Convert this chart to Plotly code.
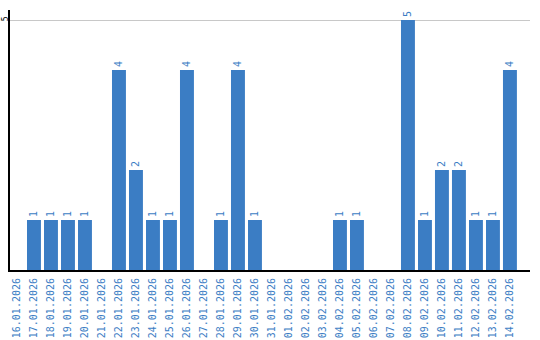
import plotly.graph_objects as go

dates = ["16.01.2026","17.01.2026","18.01.2026","19.01.2026","20.01.2026","21.01.2026",
         "22.01.2026","23.01.2026","24.01.2026","25.01.2026","26.01.2026","27.01.2026",
         "28.01.2026","29.01.2026","30.01.2026","31.01.2026","01.02.2026","02.02.2026",
         "03.02.2026","04.02.2026","05.02.2026","06.02.2026","07.02.2026","08.02.2026",
         "09.02.2026","10.02.2026","11.02.2026","12.02.2026","13.02.2026","14.02.2026"]
values = [0,1,1,1,1,0,4,2,1,1,4,0,1,4,1,0,0,0,0,1,1,0,0,5,1,2,2,1,1,4]

blue = "#3b7dc4"
labels = [str(v) if v > 0 else "" for v in values]

fig = go.Figure(go.Bar(
    x=list(range(len(dates))), y=values, text=labels, textposition="outside",
    textangle=-90, textfont=dict(family="DejaVu Sans Mono", size=10, color=blue),
    marker=dict(color=blue, line=dict(width=0)), cliponaxis=False,
))
fig.update_layout(
    width=540, height=340, margin=dict(l=10, r=10, t=10, b=70),
    paper_bgcolor="white", plot_bgcolor="white", bargap=0.18, showlegend=False,
    xaxis=dict(range=[-0.41, 30.18], tickmode="array", tickvals=list(range(len(dates))),
               ticktext=dates, tickangle=-90, showgrid=False, zeroline=False,
               showline=True, linecolor="black", linewidth=2, ticks="", automargin=False,
               ticklabelstandoff=2,
               tickfont=dict(family="DejaVu Sans Mono", size=10, color=blue)),
    yaxis=dict(range=[0, 5.2], tickvals=[5], tickangle=-90, showgrid=True,
               gridcolor="#c8c8c8", gridwidth=1, zeroline=False, showline=True,
               linecolor="black", linewidth=2, ticks="", automargin=False,
               ticklabelstandoff=-3,
               tickfont=dict(family="DejaVu Sans Mono", size=8, color="black")),
)
fig.write_html("out.html")
